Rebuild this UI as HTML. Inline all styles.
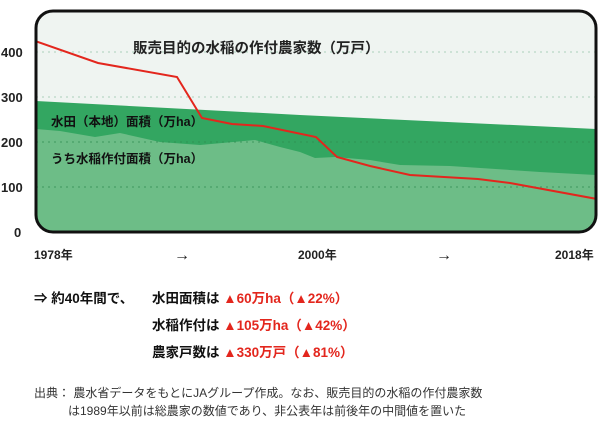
<!DOCTYPE html>
<html><head><meta charset="utf-8"><style>
body{margin:0;background:#fff;width:600px;height:422px;overflow:hidden;font-family:"Liberation Sans","Noto Sans CJK JP",sans-serif;}
svg text{font-family:"Liberation Sans","Noto Sans CJK JP",sans-serif;}
</style></head><body>
<svg width="600" height="422" viewBox="0 0 600 422">
<defs><clipPath id="c"><rect x="36" y="11" width="560" height="221" rx="17"/></clipPath></defs>
<rect x="36" y="11" width="560" height="221" rx="17" fill="#eff4f1"/>
<g clip-path="url(#c)">
<g stroke="#b9d8c5" stroke-width="1.3" stroke-dasharray="2 4">
<line x1="36" y1="52" x2="596" y2="52"/><line x1="36" y1="97" x2="596" y2="97"/>
</g>
<polygon points="36,101 300,115 597,129 597,240 36,240" fill="#33a661"/>
<path d="M36,129 L60,131 L95,137 L120,133 L160,142 L200,145 L255,140 L280,147 L300,152 L315,158 L335,157 L370,160 L400,165 L450,166 L540,172 L597,175 L597,240 L36,240Z" fill="#6dbd87"/>
<g stroke="#2f8a52" stroke-width="1.3" stroke-dasharray="2 4" opacity="0.6">
<line x1="36" y1="142" x2="596" y2="142"/><line x1="36" y1="187" x2="596" y2="187"/>
</g>
<polyline points="35,41 98,63 177,77 202,118 232,124 263,126 316,137 337,157 370,166 410,175 478,179 510,183 597,199" fill="none" stroke="#e3261d" stroke-width="2"/>
</g>
<rect x="36" y="11" width="560" height="221" rx="17" fill="none" stroke="#111" stroke-width="3"/>
<g font-size="13" font-weight="bold" fill="#222">
<text x="1" y="57">400</text><text x="1" y="102">300</text><text x="1" y="147">200</text><text x="1" y="192">100</text><text x="14" y="237">0</text>
</g>
<g font-size="12" font-weight="bold" fill="#222">
<text x="34" y="259">1978年</text><text x="298" y="259">2000年</text><text x="555" y="259">2018年</text>
<text x="174" y="260" font-size="16">→</text><text x="436" y="260" font-size="16">→</text>
</g>
<text x="133" y="53" font-size="14.5" font-weight="bold" fill="#222">販売目的の水稲の作付農家数（万戸）</text>
<text x="51" y="126" font-size="12.5" font-weight="bold" fill="#111">水田（本地）面積（万ha）</text>
<text x="51" y="163" font-size="12.5" font-weight="bold" fill="#111">うち水稲作付面積（万ha）</text>
<g font-size="13.5" font-weight="bold">
<text x="34" y="303" fill="#111">⇒ 約40年間で、</text>
<text x="152" y="303" fill="#111">水田面積は <tspan fill="#e3261d">▲60万ha（▲22%）</tspan></text>
<text x="152" y="330" fill="#111">水稲作付は <tspan fill="#e3261d">▲105万ha（▲42%）</tspan></text>
<text x="152" y="357" fill="#111">農家戸数は <tspan fill="#e3261d">▲330万戸（▲81%）</tspan></text>
</g>
<g font-size="12" fill="#333">
<text x="34" y="397">出典： 農水省データをもとにJAグループ作成。なお、販売目的の水稲の作付農家数</text>
<text x="68" y="415">は1989年以前は総農家の数値であり、非公表年は前後年の中間値を置いた</text>
</g>
</svg>
</body></html>
